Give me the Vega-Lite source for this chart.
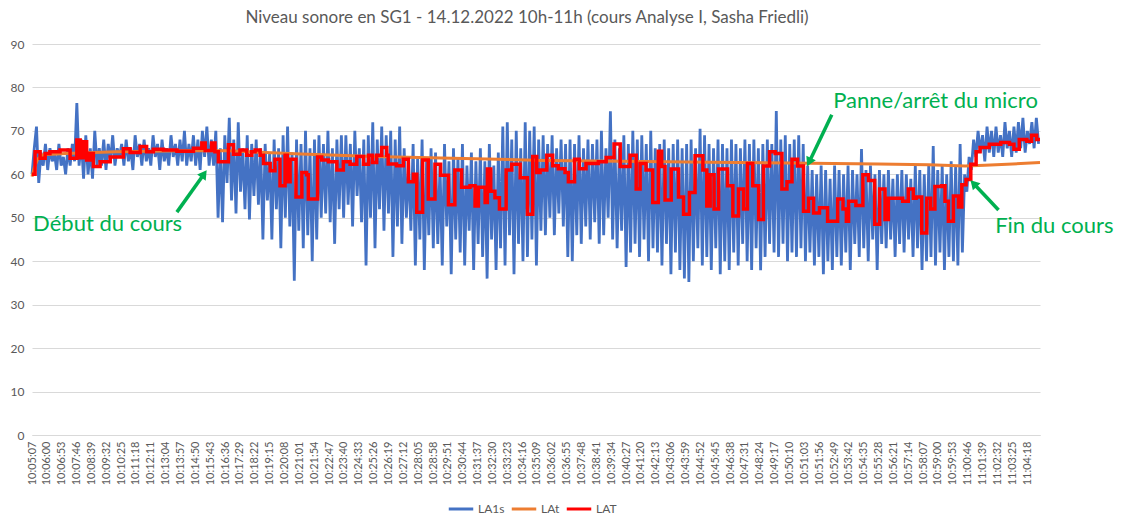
{
  "$schema": "https://vega.github.io/schema/vega-lite/v6.json",
  "description": "Niveau sonore en SG1 le 14.12.2022 entre 10h et 11h : LA1s, LAt et LAT.",
  "width": 1008,
  "height": 391,
  "autosize": {"type": "none"},
  "padding": {"left": 32, "top": 44, "right": 87, "bottom": 94},
  "background": "white",
  "title": {
    "text": "Niveau sonore en SG1 - 14.12.2022 10h-11h (cours Analyse I, Sasha Friedli)",
    "font": "Lato",
    "fontSize": 17,
    "fontWeight": "normal",
    "color": "#595959",
    "offset": 11,
    "dx": -9
  },
  "datasets": {
    "la1s": [
      {"t":0,"db":60},{"t":8,"db":66},{"t":16,"db":71},{"t":24,"db":58},{"t":32,"db":65},{"t":40,"db":62},{"t":48,"db":67},{"t":56,"db":61},{"t":64,"db":66},{"t":72,"db":63},
      {"t":80,"db":65},{"t":88,"db":61},{"t":96,"db":67},{"t":104,"db":62},{"t":112,"db":64},{"t":120,"db":60},{"t":128,"db":66},{"t":136,"db":62},{"t":144,"db":67},{"t":152,"db":63},
      {"t":160,"db":76.4},{"t":168,"db":62},{"t":176,"db":68},{"t":184,"db":59},{"t":192,"db":69},{"t":200,"db":60},{"t":208,"db":66},{"t":216,"db":59},{"t":224,"db":70},{"t":232,"db":62},
      {"t":240,"db":66},{"t":248,"db":62},{"t":256,"db":68},{"t":264,"db":61},{"t":272,"db":67},{"t":280,"db":63},{"t":288,"db":69},{"t":296,"db":62},{"t":304,"db":66},{"t":312,"db":64},
      {"t":320,"db":67},{"t":328,"db":62},{"t":336,"db":68},{"t":344,"db":63},{"t":352,"db":66},{"t":360,"db":61},{"t":368,"db":69},{"t":376,"db":64},{"t":384,"db":67},{"t":392,"db":62},
      {"t":400,"db":68},{"t":408,"db":63},{"t":416,"db":66},{"t":424,"db":62},{"t":432,"db":69},{"t":440,"db":64},{"t":448,"db":67},{"t":456,"db":61},{"t":464,"db":68},{"t":472,"db":63},
      {"t":480,"db":66},{"t":488,"db":62},{"t":496,"db":69},{"t":504,"db":64},{"t":512,"db":67},{"t":520,"db":62},{"t":528,"db":68},{"t":536,"db":63},{"t":544,"db":70},{"t":552,"db":62},
      {"t":560,"db":67},{"t":568,"db":63},{"t":576,"db":69},{"t":584,"db":62},{"t":592,"db":68},{"t":600,"db":61},{"t":608,"db":70},{"t":616,"db":64},{"t":624,"db":71},{"t":632,"db":62},
      {"t":640,"db":68},{"t":648,"db":62},{"t":656,"db":70},{"t":664,"db":50},{"t":672,"db":66},{"t":680,"db":49},{"t":688,"db":69},{"t":696,"db":58},{"t":704,"db":73},{"t":712,"db":54},
      {"t":720,"db":68},{"t":728,"db":51},{"t":736,"db":72},{"t":744,"db":56},{"t":752,"db":66},{"t":760,"db":52},{"t":768,"db":69},{"t":776,"db":49.6},{"t":784,"db":67},{"t":792,"db":55},
      {"t":800,"db":68},{"t":808,"db":53},{"t":816,"db":66},{"t":824,"db":45},{"t":832,"db":67},{"t":840,"db":54},{"t":848,"db":65},{"t":856,"db":45},{"t":864,"db":68},{"t":872,"db":52},
      {"t":880,"db":66},{"t":888,"db":43},{"t":896,"db":69},{"t":904,"db":50},{"t":912,"db":71},{"t":920,"db":48},{"t":928,"db":65},{"t":936,"db":35.5},{"t":944,"db":68},{"t":952,"db":47},
      {"t":960,"db":67},{"t":968,"db":43},{"t":976,"db":70},{"t":984,"db":46},{"t":992,"db":66},{"t":1000,"db":40},{"t":1008,"db":68},{"t":1016,"db":45},{"t":1024,"db":69},{"t":1032,"db":50},
      {"t":1040,"db":67},{"t":1048,"db":51},{"t":1056,"db":70},{"t":1064,"db":49},{"t":1072,"db":66},{"t":1080,"db":44},{"t":1088,"db":68},{"t":1096,"db":52},{"t":1104,"db":69},{"t":1112,"db":50},
      {"t":1120,"db":69},{"t":1128,"db":53},{"t":1136,"db":67},{"t":1144,"db":48},{"t":1152,"db":70},{"t":1160,"db":55},{"t":1168,"db":66},{"t":1176,"db":49},{"t":1184,"db":68},{"t":1192,"db":39},
      {"t":1200,"db":69},{"t":1208,"db":50},{"t":1216,"db":72},{"t":1224,"db":43},{"t":1232,"db":68},{"t":1240,"db":52},{"t":1248,"db":71},{"t":1256,"db":47},{"t":1264,"db":69},{"t":1272,"db":51},
      {"t":1280,"db":70},{"t":1288,"db":41},{"t":1296,"db":68},{"t":1304,"db":48},{"t":1312,"db":71},{"t":1320,"db":44},{"t":1328,"db":66},{"t":1336,"db":50},{"t":1344,"db":63},{"t":1352,"db":47},
      {"t":1360,"db":67},{"t":1368,"db":39},{"t":1376,"db":64},{"t":1384,"db":45},{"t":1392,"db":68},{"t":1400,"db":38},{"t":1408,"db":63},{"t":1416,"db":46},{"t":1424,"db":66},{"t":1432,"db":43},
      {"t":1440,"db":65},{"t":1448,"db":44},{"t":1456,"db":62},{"t":1464,"db":39},{"t":1472,"db":67},{"t":1480,"db":48},{"t":1488,"db":63},{"t":1496,"db":37},{"t":1504,"db":66},{"t":1512,"db":45},
      {"t":1520,"db":64},{"t":1528,"db":42},{"t":1536,"db":67},{"t":1544,"db":39},{"t":1552,"db":62},{"t":1560,"db":47},{"t":1568,"db":65},{"t":1576,"db":38},{"t":1584,"db":63},{"t":1592,"db":44},
      {"t":1600,"db":66},{"t":1608,"db":41},{"t":1616,"db":63},{"t":1624,"db":36},{"t":1632,"db":67},{"t":1640,"db":45},{"t":1648,"db":62},{"t":1656,"db":38},{"t":1664,"db":65},{"t":1672,"db":43},
      {"t":1680,"db":71},{"t":1688,"db":39},{"t":1696,"db":72},{"t":1704,"db":46},{"t":1712,"db":68},{"t":1720,"db":37},{"t":1728,"db":70},{"t":1736,"db":44},{"t":1744,"db":66},{"t":1752,"db":40},
      {"t":1760,"db":72},{"t":1768,"db":41},{"t":1776,"db":70},{"t":1784,"db":45},{"t":1792,"db":71},{"t":1800,"db":39},{"t":1808,"db":68},{"t":1816,"db":47},{"t":1824,"db":69},{"t":1832,"db":46},
      {"t":1840,"db":67},{"t":1848,"db":50},{"t":1856,"db":69},{"t":1864,"db":46},{"t":1872,"db":66},{"t":1880,"db":51},{"t":1888,"db":68},{"t":1896,"db":48},{"t":1904,"db":67},{"t":1912,"db":41},
      {"t":1920,"db":68},{"t":1928,"db":40},{"t":1936,"db":67},{"t":1944,"db":46},{"t":1952,"db":69},{"t":1960,"db":44},{"t":1968,"db":66},{"t":1976,"db":48},{"t":1984,"db":68},{"t":1992,"db":45},
      {"t":2000,"db":67},{"t":2008,"db":49},{"t":2016,"db":68},{"t":2024,"db":44},{"t":2032,"db":70},{"t":2040,"db":46},{"t":2048,"db":66},{"t":2056,"db":50},{"t":2064,"db":74.5},{"t":2072,"db":45},
      {"t":2080,"db":68},{"t":2088,"db":43},{"t":2096,"db":66},{"t":2104,"db":47},{"t":2112,"db":69},{"t":2120,"db":38.7},{"t":2128,"db":67},{"t":2136,"db":42},{"t":2144,"db":70},{"t":2152,"db":44},
      {"t":2160,"db":68},{"t":2168,"db":41},{"t":2176,"db":69},{"t":2184,"db":45},{"t":2192,"db":67},{"t":2200,"db":40},{"t":2208,"db":70},{"t":2216,"db":43},{"t":2224,"db":66},{"t":2232,"db":42},
      {"t":2240,"db":67},{"t":2248,"db":39},{"t":2256,"db":68},{"t":2264,"db":44},{"t":2272,"db":66},{"t":2280,"db":37},{"t":2288,"db":67},{"t":2296,"db":42},{"t":2304,"db":68},{"t":2312,"db":38},
      {"t":2320,"db":66},{"t":2328,"db":36},{"t":2336,"db":67},{"t":2344,"db":35.2},{"t":2352,"db":68},{"t":2360,"db":40},{"t":2368,"db":66},{"t":2376,"db":43},{"t":2384,"db":70.5},{"t":2392,"db":39},
      {"t":2400,"db":69},{"t":2408,"db":41},{"t":2416,"db":67},{"t":2424,"db":38},{"t":2432,"db":66},{"t":2440,"db":43},{"t":2448,"db":68},{"t":2456,"db":37},{"t":2464,"db":67},{"t":2472,"db":40},
      {"t":2480,"db":66},{"t":2488,"db":38},{"t":2496,"db":68},{"t":2504,"db":42},{"t":2512,"db":67},{"t":2520,"db":39},{"t":2528,"db":66},{"t":2536,"db":44},{"t":2544,"db":68},{"t":2552,"db":40},
      {"t":2560,"db":67},{"t":2568,"db":38},{"t":2576,"db":68},{"t":2584,"db":43},{"t":2592,"db":66},{"t":2600,"db":37.9},{"t":2608,"db":67},{"t":2616,"db":41},{"t":2624,"db":68},{"t":2632,"db":44},
      {"t":2640,"db":67},{"t":2648,"db":42},{"t":2656,"db":74.6},{"t":2664,"db":41},{"t":2672,"db":68},{"t":2680,"db":44},{"t":2688,"db":69},{"t":2696,"db":40},{"t":2704,"db":67},{"t":2712,"db":42},
      {"t":2720,"db":68},{"t":2728,"db":41},{"t":2736,"db":69},{"t":2744,"db":43},{"t":2752,"db":67},{"t":2760,"db":40},{"t":2768,"db":62},{"t":2776,"db":42},{"t":2784,"db":61},{"t":2792,"db":39},
      {"t":2800,"db":60},{"t":2808,"db":41},{"t":2816,"db":62},{"t":2824,"db":37},{"t":2832,"db":61},{"t":2840,"db":40},{"t":2848,"db":59},{"t":2856,"db":38},{"t":2864,"db":62},{"t":2872,"db":41},
      {"t":2880,"db":61},{"t":2888,"db":39},{"t":2896,"db":60},{"t":2904,"db":42},{"t":2912,"db":62},{"t":2920,"db":38},{"t":2928,"db":61},{"t":2936,"db":44},{"t":2944,"db":60},{"t":2952,"db":41},
      {"t":2960,"db":65.8},{"t":2968,"db":43},{"t":2976,"db":61},{"t":2984,"db":40},{"t":2992,"db":62},{"t":3000,"db":45},{"t":3008,"db":60},{"t":3016,"db":38},{"t":3024,"db":61},{"t":3032,"db":44},
      {"t":3040,"db":60},{"t":3048,"db":43},{"t":3056,"db":61},{"t":3064,"db":45},{"t":3072,"db":59},{"t":3080,"db":41},{"t":3088,"db":60},{"t":3096,"db":44},{"t":3104,"db":61},{"t":3112,"db":42},
      {"t":3120,"db":60},{"t":3128,"db":45},{"t":3136,"db":59},{"t":3144,"db":41},{"t":3152,"db":62},{"t":3160,"db":43},{"t":3168,"db":61},{"t":3176,"db":38},{"t":3184,"db":60},{"t":3192,"db":40},
      {"t":3200,"db":62},{"t":3208,"db":41},{"t":3216,"db":66.5},{"t":3224,"db":39},{"t":3232,"db":61},{"t":3240,"db":42},{"t":3248,"db":62},{"t":3256,"db":38},{"t":3264,"db":60},{"t":3272,"db":41},
      {"t":3280,"db":63},{"t":3288,"db":40},{"t":3296,"db":62},{"t":3304,"db":39},{"t":3312,"db":67},{"t":3320,"db":42},{"t":3328,"db":60},{"t":3336,"db":56},{"t":3344,"db":64},{"t":3352,"db":61},
      {"t":3360,"db":68},{"t":3368,"db":64},{"t":3376,"db":70},{"t":3384,"db":65},{"t":3392,"db":69},{"t":3400,"db":63},{"t":3408,"db":71},{"t":3416,"db":65},{"t":3424,"db":70},{"t":3432,"db":64},
      {"t":3440,"db":71},{"t":3448,"db":65},{"t":3456,"db":69},{"t":3464,"db":64},{"t":3472,"db":72},{"t":3480,"db":66},{"t":3488,"db":70},{"t":3496,"db":64},{"t":3504,"db":71},{"t":3512,"db":65},
      {"t":3520,"db":72},{"t":3528,"db":66},{"t":3536,"db":73},{"t":3544,"db":65},{"t":3552,"db":70},{"t":3560,"db":67},{"t":3568,"db":72},{"t":3576,"db":66},{"t":3584,"db":73},{"t":3592,"db":67}
    ],
    "lat_cumul": [
      {"t":0,"db":59.5},{"t":8,"db":61.5},{"t":20,"db":63.5},{"t":40,"db":64.5},{"t":120,"db":64.8},{"t":300,"db":65.2},{"t":600,"db":65.5},{"t":700,"db":65.4},{"t":960,"db":64.7},{"t":1220,"db":64.1},{"t":1500,"db":63.7},{"t":1830,"db":63.2},{"t":2100,"db":63.0},{"t":2420,"db":62.8},{"t":2700,"db":62.6},{"t":3020,"db":62.4},{"t":3200,"db":62.2},{"t":3330,"db":61.9},{"t":3400,"db":62.1},{"t":3500,"db":62.4},{"t":3597,"db":62.7}
    ],
    "lat_pas": [
      {"t":0,"db":60},{"t":11,"db":65.2},{"t":29,"db":63.7},{"t":47,"db":64.8},{"t":64,"db":65.2},{"t":100,"db":65.6},{"t":136,"db":63.7},{"t":160,"db":67.9},{"t":172,"db":63.8},{"t":183,"db":67.5},{"t":195,"db":63.3},{"t":207,"db":64.8},{"t":219,"db":61.8},{"t":243,"db":62.9},{"t":279,"db":64.0},{"t":326,"db":65.9},{"t":350,"db":65.0},{"t":386,"db":66.4},{"t":409,"db":65.2},{"t":433,"db":65.8},{"t":469,"db":65.6},{"t":517,"db":65.3},{"t":576,"db":66.0},{"t":606,"db":67.2},
      {"t":618,"db":65.5},{"t":641,"db":67.2},{"t":653,"db":65.2},{"t":665,"db":62.9},{"t":701,"db":66.8},{"t":719,"db":64.6},{"t":742,"db":65.6},{"t":766,"db":64.4},{"t":784,"db":65.2},{"t":796,"db":65.6},{"t":814,"db":64.4},{"t":826,"db":62.5},{"t":850,"db":60.8},{"t":867,"db":63.5},{"t":885,"db":57.4},{"t":903,"db":64.4},{"t":911,"db":58.3},{"t":921,"db":63.5},{"t":942,"db":54.8},{"t":963,"db":60.4},{"t":980,"db":59.9},{"t":986,"db":54.3},
      {"t":1019,"db":64.0},{"t":1034,"db":63.3},{"t":1058,"db":62.9},{"t":1088,"db":61.0},{"t":1111,"db":62.9},{"t":1135,"db":62.3},{"t":1159,"db":64.1},{"t":1183,"db":62.3},{"t":1201,"db":64.4},{"t":1215,"db":62.7},{"t":1230,"db":64.4},{"t":1248,"db":66.2},{"t":1266,"db":64.4},{"t":1271,"db":62.4},{"t":1301,"db":62.0},{"t":1325,"db":63.5},{"t":1343,"db":58.3},{"t":1361,"db":60.0},{"t":1373,"db":51.3},{"t":1394,"db":63.3},{"t":1414,"db":54.3},{"t":1438,"db":62.3},{"t":1458,"db":59.8},{"t":1486,"db":53.0},
      {"t":1509,"db":61.0},{"t":1533,"db":57.0},{"t":1563,"db":57.4},{"t":1581,"db":52.7},{"t":1593,"db":57.0},{"t":1617,"db":53.5},{"t":1625,"db":61.2},{"t":1637,"db":56.1},{"t":1652,"db":54.6},{"t":1668,"db":52.0},{"t":1692,"db":61.0},{"t":1712,"db":62.3},{"t":1742,"db":59.2},{"t":1768,"db":50.8},{"t":1787,"db":64.1},{"t":1801,"db":60.4},{"t":1813,"db":61.0},{"t":1837,"db":64.4},{"t":1858,"db":62.0},{"t":1878,"db":61.3},{"t":1902,"db":60.4},{"t":1914,"db":58.3},
      {"t":1936,"db":63.5},{"t":1953,"db":61.3},{"t":1977,"db":62.5},{"t":2021,"db":62.9},{"t":2049,"db":63.9},{"t":2077,"db":67.0},{"t":2099,"db":61.8},{"t":2134,"db":64.4},{"t":2156,"db":56.6},{"t":2170,"db":62.5},{"t":2191,"db":61.0},{"t":2215,"db":53.5},{"t":2235,"db":65.3},{"t":2247,"db":61.8},{"t":2259,"db":54.1},{"t":2281,"db":61.2},{"t":2307,"db":54.8},{"t":2325,"db":50.8},{"t":2346,"db":55.8},{"t":2366,"db":64.3},{"t":2394,"db":61.0},{"t":2408,"db":52.7},
      {"t":2420,"db":59.9},{"t":2434,"db":52.0},{"t":2450,"db":61.2},{"t":2482,"db":57.4},{"t":2501,"db":50.4},{"t":2521,"db":56.6},{"t":2539,"db":52.0},{"t":2553,"db":62.5},{"t":2572,"db":57.4},{"t":2593,"db":49.6},{"t":2610,"db":61.9},{"t":2632,"db":65.2},{"t":2652,"db":64.8},{"t":2676,"db":56.6},{"t":2694,"db":58.3},{"t":2712,"db":63.5},{"t":2732,"db":61.9},{"t":2753,"db":51.5},{"t":2771,"db":54.5},{"t":2789,"db":51.1},{"t":2810,"db":52.3},{"t":2839,"db":49.2},
      {"t":2875,"db":54.3},{"t":2894,"db":52.0},{"t":2906,"db":49.2},{"t":2914,"db":53.8},{"t":2940,"db":52.8},{"t":2965,"db":59.9},{"t":2985,"db":58.6},{"t":3007,"db":48.5},{"t":3025,"db":56.6},{"t":3044,"db":49.6},{"t":3056,"db":54.5},{"t":3107,"db":53.8},{"t":3127,"db":56.6},{"t":3145,"db":54.5},{"t":3155,"db":54.8},{"t":3175,"db":46.5},{"t":3193,"db":54.5},{"t":3207,"db":52.0},{"t":3222,"db":57.2},{"t":3246,"db":57.4},{"t":3258,"db":53.8},{"t":3270,"db":49.2},
      {"t":3288,"db":55.0},{"t":3306,"db":52.5},{"t":3318,"db":57.6},{"t":3333,"db":58.8},{"t":3350,"db":62.3},{"t":3369,"db":65.2},{"t":3383,"db":66.2},{"t":3416,"db":66.9},{"t":3457,"db":67.3},{"t":3488,"db":66.9},{"t":3504,"db":65.8},{"t":3523,"db":68.0},{"t":3550,"db":67.6},{"t":3567,"db":69.0},{"t":3585,"db":68.0},{"t":3597,"db":68.0}
    ],
    "fleches": [
      {"t":517,"db":51.3,"t2":614,"db2":60.1},
      {"t":2854,"db":73.7,"t2":2773,"db2":62.8},
      {"t":3449,"db":51.8,"t2":3360,"db2":57.9}
    ],
    "notes": [
      {"t":4,"db":48.6,"label":"Début du cours"},
      {"t":2859,"db":76.9,"label":"Panne/arrêt du micro"},
      {"t":3437,"db":48.1,"label":"Fin du cours"}
    ]
  },
  "encoding": {
    "x": {
      "field": "t",
      "type": "quantitative",
      "title": null,
      "scale": {"domain": [0, 3597], "nice": false, "zero": false},
      "axis": {
        "values": [0,53,106,159,212,265,318,371,424,477,530,583,636,689,742,795,848,901,954,1007,1060,1113,1166,1219,1272,1325,1378,1431,1484,1537,1590,1643,1696,1749,1802,1855,1908,1961,2014,2067,2120,2173,2226,2279,2332,2385,2438,2491,2544,2597,2650,2703,2756,2809,2862,2915,2968,3021,3074,3127,3180,3233,3286,3339,3392,3445,3498,3551],
        "labelExpr": "timeFormat(datetime(2022, 11, 14, 10, 5, 7 + datum.value), '%H:%M:%S')",
        "labelAngle": -90,
        "labelOverlap": false,
        "labelFlush": false,
        "labelPadding": 6,
        "labelFontSize": 11,
        "labelColor": "#595959",
        "grid": false,
        "ticks": false,
        "domainColor": "#d9d9d9"
      }
    },
    "y": {
      "field": "db",
      "type": "quantitative",
      "title": null,
      "scale": {"domain": [0, 90], "nice": false},
      "axis": {
        "values": [0,10,20,30,40,50,60,70,80,90],
        "domain": false,
        "ticks": false,
        "labelPadding": 8,
        "labelFontSize": 12,
        "labelColor": "#595959",
        "gridColor": "#d9d9d9"
      }
    }
  },
  "layer": [
    {
      "data": {"name": "la1s"},
      "mark": {"type": "line", "strokeWidth": 2.8},
      "encoding": {
        "color": {
          "datum": "LA1s",
          "type": "nominal",
          "scale": {"domain": ["LA1s", "LAt", "LAT"], "range": ["#4472C4", "#ED7D31", "#FF0000"]},
          "legend": {
            "title": null,
            "orient": "none",
            "direction": "horizontal",
            "legendX": 415,
            "legendY": 451,
            "symbolType": "stroke",
            "symbolSize": 600,
            "symbolStrokeWidth": 3,
            "labelFontSize": 12,
            "labelColor": "#595959",
            "labelOffset": 3,
            "columnPadding": 0
          }
        }
      }
    },
    {
      "data": {"name": "lat_cumul"},
      "mark": {"type": "line", "strokeWidth": 3},
      "encoding": {"color": {"datum": "LAt", "type": "nominal"}}
    },
    {
      "data": {"name": "lat_pas"},
      "mark": {"type": "line", "strokeWidth": 3.5, "interpolate": "step-after"},
      "encoding": {"color": {"datum": "LAT", "type": "nominal"}}
    },
    {
      "data": {"name": "fleches"},
      "mark": {"type": "rule", "color": "#00B050", "strokeWidth": 3.5},
      "encoding": {"x2": {"field": "t2"}, "y2": {"field": "db2"}}
    },
    {
      "data": {"values": [{"t": 614, "db": 60.1}]},
      "mark": {"type": "point", "shape": "triangle-up", "filled": true, "color": "#00B050", "opacity": 1, "size": 110, "angle": 35.5}
    },
    {
      "data": {"values": [{"t": 2773, "db": 62.8}]},
      "mark": {"type": "point", "shape": "triangle-up", "filled": true, "color": "#00B050", "opacity": 1, "size": 110, "angle": 205.8}
    },
    {
      "data": {"values": [{"t": 3360, "db": 57.9}]},
      "mark": {"type": "point", "shape": "triangle-up", "filled": true, "color": "#00B050", "opacity": 1, "size": 110, "angle": 316.7}
    },
    {
      "data": {"name": "notes"},
      "mark": {"type": "text", "fontSize": 22, "color": "#00B050", "align": "left", "baseline": "middle"},
      "encoding": {"text": {"field": "label"}}
    }
  ],
  "config": {
    "font": "Lato",
    "view": {"stroke": null}
  }
}
